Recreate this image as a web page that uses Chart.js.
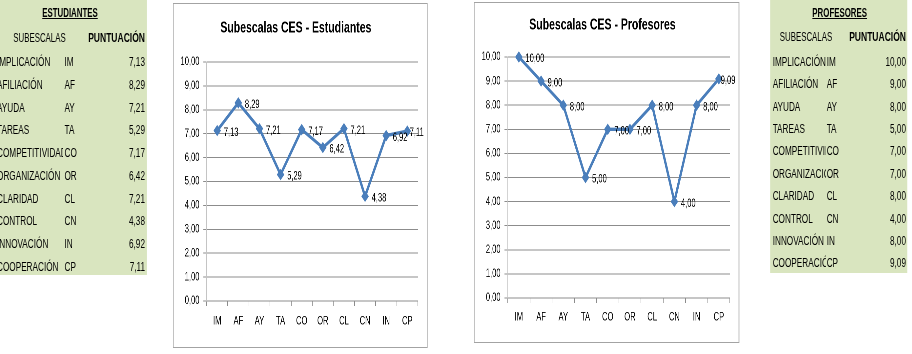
<!DOCTYPE html>
<html>
<head>
<meta charset="utf-8">
<script src="https://cdn.jsdelivr.net/npm/chart.js@4"></script>
<style>
  body { margin: 0; background: #fff; overflow: hidden; }
  /* the reference is squeezed horizontally, so the page is laid out wide and squeezed */
  #page { position: absolute; left: 0; top: 0; width: 1390px; height: 354px;
          transform: scaleX(0.656); transform-origin: 0 0;
          font-family: 'Liberation Sans', Arial, sans-serif; color: #000; }
  .tabla { position: absolute; top: 0; background: #d9e5bf; }
  .t { position: absolute; height: 16px; line-height: 16px; font-size: 12.5px; white-space: nowrap; overflow: hidden; }
  .caja { position: absolute; border: 1px solid #a3a3a3; border-left-width: 1.5px; border-right-width: 1.5px; background: #fff; }
  .caja canvas { position: absolute; left: 0; top: 0; }
</style>
</head>
<body>
<div id="page">
  <div class="caja" id="cajaEst"><canvas id="chartEst"></canvas></div>
  <div class="caja" id="cajaProf"><canvas id="chartProf"></canvas></div>
</div>
<script>
var categorias = ['IM', 'AF', 'AY', 'TA', 'CO', 'OR', 'CL', 'CN', 'IN', 'CP'];
var subescalas = ['IMPLICACIÓN', 'AFILIACIÓN', 'AYUDA', 'TAREAS', 'COMPETITIVIDAD',
                  'ORGANIZACIÓN', 'CLARIDAD', 'CONTROL', 'INNOVACIÓN', 'COOPERACIÓN'];
var estudiantes = [7.13, 8.29, 7.21, 5.29, 7.17, 6.42, 7.21, 4.38, 6.92, 7.11];
var profesores = [10.00, 9.00, 8.00, 5.00, 7.00, 7.00, 8.00, 4.00, 8.00, 9.09];
var yMin = 0, yMax = 10, yPaso = 1;

var S = 0.656;   // horizontal squeeze
var azul = '#4a7ebb';
var page = document.getElementById('page');

Chart.defaults.font.family = "'Liberation Sans', Arial, sans-serif";

function fmt(v){
	return v.toFixed(2).replace('.', ',');
}

// x and w in screen pixels
function texto(str, x, yc, w, align, extra){
	var d = document.createElement('div');
	d.className = 't';
	d.textContent = str;
	d.style.left = (x / S) + 'px';
	d.style.width = (w / S) + 'px';
	d.style.top = (yc - 8) + 'px';
	d.style.textAlign = align;
	if (extra) Object.assign(d.style, extra);
	page.appendChild(d);
}

function tabla(titulo, valores, t){
	var fondo = document.createElement('div');
	fondo.className = 'tabla';
	fondo.style.left = (t.x0 / S) + 'px';
	fondo.style.width = ((t.x1 - t.x0) / S) + 'px';
	fondo.style.height = t.h + 'px';
	page.appendChild(fondo);

	texto(titulo, t.tx - 40, 13, 80, 'center', {fontWeight: 'bold', textDecoration: 'underline', fontSize: '12px'});
	texto('SUBESCALAS', t.sx - 40, t.hy, 80, 'center', {fontSize: '12px'});
	texto('PUNTUACIÓN', t.vx - 70, t.hy, 70, 'right', {fontWeight: 'bold', fontSize: '13px'});

	subescalas.forEach(function(nombre, i){
		var y = t.y0 + i * t.dy;
		texto(nombre, t.nx, y, t.nw, 'left');
		texto(categorias[i], t.cx, y, 20, 'left');
		texto(fmt(valores[i]), t.vx - 30, y, 30, 'right');
	});
}

tabla('ESTUDIANTES', estudiantes,
	{x0: 0, x1: 147, h: 275, tx: 70, sx: 39.5, hy: 38, vx: 145, nx: -3, nw: 66, cx: 64.5, y0: 62, dy: 22.75});
tabla('PROFESORES', profesores,
	{x0: 770, x1: 907, h: 273, tx: 839.7, sx: 806, hy: 36.7, vx: 906, nx: 772.7, nw: 53, cx: 826.7, y0: 61.7, dy: 22.4});

// data labels to the right of each point, kept inside the chart box
var etiquetas = {
	id: 'etiquetas',
	afterDatasetsDraw: function(chart){
		var ctx = chart.ctx;
		var datos = chart.data.datasets[0].data;
		ctx.save();
		ctx.font = "11.5px 'Liberation Sans', Arial, sans-serif";
		ctx.fillStyle = '#000';
		ctx.textAlign = 'left';
		ctx.textBaseline = 'middle';
		chart.getDatasetMeta(0).data.forEach(function(p, i){
			var txt = fmt(datos[i]);
			var x = Math.min(p.x + 10, chart.width - 5 - ctx.measureText(txt).width);
			ctx.fillText(txt, x, p.y + 2);
		});
		ctx.restore();
	}
};

function grafico(id, caja, titulo, valores, c){
	var box = document.getElementById(caja);
	box.style.left = c.left + 'px';
	box.style.top = c.top + 'px';
	box.style.width = c.w + 'px';
	box.style.height = c.h + 'px';

	var cv = document.getElementById(id);
	cv.width = c.w;
	cv.height = c.h;

	return new Chart(cv, {
		type: 'line',
		data: {
			labels: categorias,
			datasets: [{
				data: valores,
				borderColor: azul,
				backgroundColor: azul,
				borderWidth: 3.4,
				pointStyle: 'rectRot',
				pointRadius: 5,
				pointBorderWidth: 1,
				pointBorderColor: azul,
				pointBackgroundColor: azul,
				tension: 0,
				clip: false
			}]
		},
		options: {
			responsive: false,
			animation: false,
			devicePixelRatio: 2,
			layout: { padding: { left: 0, right: c.pr, top: 0, bottom: c.pb } },
			plugins: {
				legend: { display: false },
				tooltip: { enabled: false },
				title: {
					display: true,
					text: titulo,
					color: '#000',
					font: { size: 16, weight: 'bold' },
					padding: { top: c.tt, bottom: c.tb }
				}
			},
			scales: {
				x: {
					offset: true,
					grid: { offset: true, drawOnChartArea: false, tickLength: 5, color: '#8c8c8c' },
					border: { color: '#8c8c8c' },
					ticks: { padding: c.xp, color: '#000', font: { size: 11.5 } }
				},
				y: {
					min: yMin,
					max: yMax,
					grid: { color: '#8c8c8c', tickLength: 5 },
					border: { color: '#c4c4c4' },
					ticks: { stepSize: yPaso, padding: 6, color: '#000', font: { size: 11.5 },
						callback: function(v){ return fmt(v); } },
					afterFit: function(s){ s.width = 50; }
				}
			}
		},
		plugins: [etiquetas]
	});
}

grafico('chartEst', 'cajaEst', 'Subescalas CES - Estudiantes', estudiantes,
	{left: 263.7, top: 3, w: 386, h: 343, pr: 14, pb: 10.4, tt: 14.4, tb: 24.4, xp: 8.4});
grafico('chartProf', 'cajaProf', 'Subescalas CES - Profesores', profesores,
	{left: 722.6, top: 2, w: 402, h: 339, pr: 13.3, pb: 10.4, tt: 12.4, tb: 22.4, xp: 7.4});
</script>
</body>
</html>
